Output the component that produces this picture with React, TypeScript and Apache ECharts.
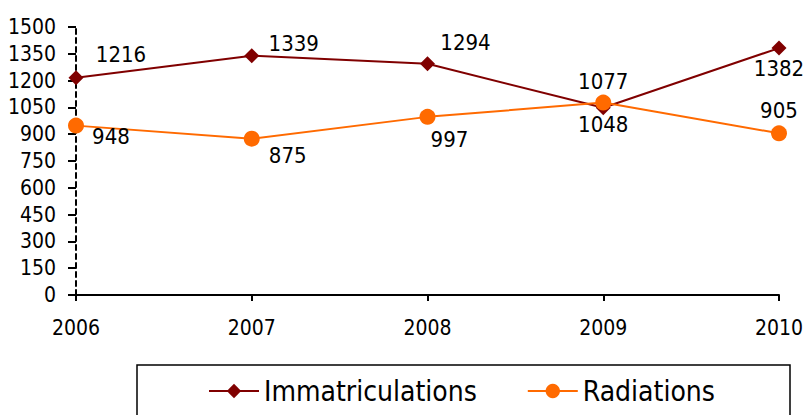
import React, { useEffect, useRef } from "react";
import * as echarts from "echarts";

const years = ["2006", "2007", "2008", "2009", "2010"];
const immatriculations = [1216, 1339, 1294, 1048, 1382];
const radiations = [948, 875, 997, 1077, 905];
const immLabelOffsets: [number, number][] = [[45, -23], [42, -12], [38, -21], [0, 17], [0, 20]];
const radLabelOffsets: [number, number][] = [[35, 11], [36, 17], [22, 23], [0, -21], [0, -23]];

const FONT = "'Liberation Sans Narrow', 'Arial Narrow', 'DejaVu Sans Condensed', sans-serif";

export default function App() {
  const ref = useRef<HTMLDivElement>(null);
  useEffect(() => {
    if (!ref.current) return;
    const chart = echarts.init(ref.current, undefined, { renderer: "svg" });
    const labelStyle = { show: true, position: "inside" as const, fontFamily: FONT, fontSize: 22, color: "#000" };
    chart.setOption({
      animation: false,
      textStyle: { fontFamily: FONT },
      grid: { left: 76, right: 25, top: 27, bottom: 120, containLabel: false, outerBoundsMode: "none" },
      xAxis: {
        type: "category",
        data: years,
        boundaryGap: false,
        axisLine: { lineStyle: { color: "#000", width: 2 } },
        axisTick: { show: true, length: 6, lineStyle: { color: "#000", width: 2 } },
        axisLabel: { fontFamily: FONT, fontSize: 21, color: "#000", margin: 22 },
      },
      yAxis: {
        type: "value",
        min: 0,
        max: 1500,
        interval: 150,
        splitLine: { show: false },
        axisLine: { show: true, lineStyle: { color: "#000", width: 2, type: [5, 4] } },
        axisTick: { show: true, length: 8, lineStyle: { color: "#000", width: 2 } },
        axisLabel: { fontFamily: FONT, fontSize: 21, color: "#000", margin: 20, formatter: (v: number) => String(v) },
      },
      legend: {
        left: 203,
        top: 372,
        itemWidth: 50,
        itemHeight: 18,
        itemGap: 50,
        textStyle: { fontFamily: FONT, fontSize: 28, color: "#000" },
        data: ["Immatriculations", "Radiations"],
      },
      graphic: [
        {
          type: "rect",
          shape: { x: 137, y: 365, width: 653, height: 70 },
          style: { fill: "none", stroke: "#000", lineWidth: 1.5 },
          z: -1,
        },
      ],
      series: [
        {
          name: "Immatriculations",
          type: "line",
          data: immatriculations.map((v, i) => ({ value: v, label: { ...labelStyle, offset: immLabelOffsets[i] } })),
          symbol: "diamond",
          symbolSize: 15,
          itemStyle: { color: "#800000" },
          lineStyle: { color: "#800000", width: 2 },
          label: labelStyle,
        },
        {
          name: "Radiations",
          type: "line",
          data: radiations.map((v, i) => ({ value: v, label: { ...labelStyle, offset: radLabelOffsets[i] } })),
          symbol: "circle",
          symbolSize: 16,
          itemStyle: { color: "#FF6A00" },
          lineStyle: { color: "#FF6A00", width: 2 },
          label: labelStyle,
        },
      ],
    });
    return () => chart.dispose();
  }, []);
  return <div ref={ref} style={{ width: 804, height: 415, position: "absolute", left: 0, top: 0 }} />;
}
